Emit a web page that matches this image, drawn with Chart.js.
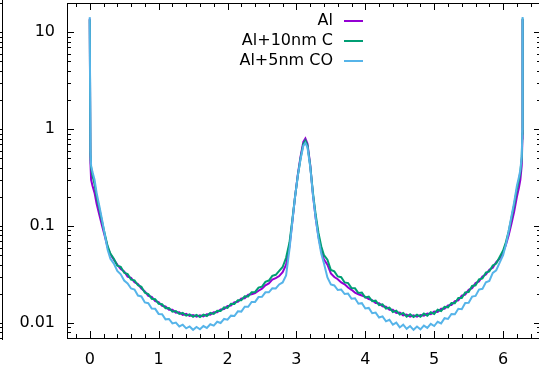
<!DOCTYPE html>
<html>
<head>
<meta charset="utf-8">
<script src="https://cdn.jsdelivr.net/npm/chart.js@4.4.0/dist/chart.umd.min.js"></script>
<style>
html, body { margin: 0; padding: 0; background: #fff; overflow: hidden; }
#chart { display: block; }
</style>
</head>
<body>
<canvas id="chart" width="560" height="371"></canvas>
<script>
// data
var xs = [0, 0.01, 0.02, 0.04, 0.07, 0.1, 0.14, 0.18, 0.22, 0.26, 0.3,
  0.35, 0.40, 0.45, 0.50, 0.55, 0.60, 0.65, 0.70, 0.75, 0.80, 0.85, 0.90, 0.95, 1.00, 1.05, 1.10, 1.15,
  1.20, 1.25, 1.30, 1.35, 1.40, 1.45, 1.50, 1.55, 1.60, 1.65, 1.70, 1.75, 1.80, 1.85, 1.90, 1.95, 2.00,
  2.05, 2.10, 2.15, 2.20, 2.25, 2.30, 2.35, 2.40, 2.45, 2.50, 2.55, 2.60, 2.65, 2.70, 2.75, 2.80, 2.85,
  2.9, 2.94, 2.98, 3.02, 3.06, 3.1, 3.13, 3.16, 3.2, 3.24, 3.28, 3.32, 3.36, 3.4,
  3.45, 3.50, 3.55, 3.60, 3.65, 3.70, 3.75, 3.80, 3.85, 3.90, 3.95, 4.00, 4.05, 4.10, 4.15, 4.20, 4.25,
  4.30, 4.35, 4.40, 4.45, 4.50, 4.55, 4.60, 4.65, 4.70, 4.75, 4.80, 4.85, 4.90, 4.95, 5.00, 5.05, 5.10,
  5.15, 5.20, 5.25, 5.30, 5.35, 5.40, 5.45, 5.50, 5.55, 5.60, 5.65, 5.70, 5.75, 5.80, 5.85, 5.90, 5.95,
  6.0, 6.04, 6.08, 6.12, 6.16, 6.2, 6.23, 6.25, 6.27, 6.28, 6.283];

var alVals = [13.8, 0.45, 0.30, 0.26, 0.22, 0.17, 0.13, 0.10, 0.078, 0.060, 0.051,
  0.045, 0.040, 0.036, 0.034, 0.030, 0.0292, 0.0263, 0.0252, 0.0226, 0.0212, 0.0190, 0.0186, 0.0168, 0.0164, 0.0150, 0.0148, 0.0137,
  0.0137, 0.0128, 0.0129, 0.0121, 0.0124, 0.0118, 0.0121, 0.0116, 0.0120, 0.0117, 0.0123, 0.0122, 0.0129, 0.0129, 0.0138, 0.0139, 0.0150,
  0.0151, 0.0164, 0.0165, 0.0179, 0.0180, 0.0196, 0.0198, 0.0203, 0.0215, 0.0226, 0.0245, 0.0256, 0.0280, 0.0290, 0.0305, 0.0335, 0.040,
  0.062, 0.11, 0.2, 0.34, 0.52, 0.74, 0.80, 0.71, 0.43, 0.21, 0.12, 0.078, 0.056, 0.045,
  0.040, 0.0325, 0.0298, 0.0283, 0.0262, 0.0251, 0.0232, 0.0220, 0.0206, 0.0198, 0.0192, 0.0186, 0.0176, 0.0172, 0.0161, 0.0160, 0.0149,
  0.0147, 0.0137, 0.0137, 0.0127, 0.0128, 0.0120, 0.0122, 0.0116, 0.0120, 0.0116, 0.0121, 0.0119, 0.0125, 0.0123, 0.0131, 0.0130, 0.0140,
  0.0140, 0.0152, 0.0153, 0.0168, 0.0171, 0.0192, 0.0196, 0.0220, 0.0228, 0.0258, 0.0268, 0.0302, 0.0316, 0.0355, 0.0372, 0.0425, 0.046,
  0.054, 0.064, 0.08, 0.105, 0.14, 0.2, 0.25, 0.30, 0.42, 0.8, 13.6];

var alcVals = [13.5, 0.55, 0.40, 0.33, 0.27, 0.20, 0.15, 0.11, 0.082, 0.062, 0.052,
  0.046, 0.039, 0.038, 0.033, 0.032, 0.028, 0.0275, 0.0245, 0.0236, 0.0205, 0.0199, 0.0178, 0.0176, 0.0158, 0.0156, 0.0142, 0.0143,
  0.0131, 0.0133, 0.0124, 0.0127, 0.0119, 0.0123, 0.0116, 0.0121, 0.0115, 0.0122, 0.0118, 0.0127, 0.0124, 0.0134, 0.0133, 0.0145, 0.0143,
  0.0158, 0.0157, 0.0172, 0.0172, 0.0189, 0.0188, 0.0208, 0.0209, 0.0232, 0.0237, 0.0266, 0.0274, 0.0306, 0.0314, 0.0345, 0.0378, 0.047,
  0.068, 0.115, 0.2, 0.33, 0.5, 0.7, 0.76, 0.68, 0.42, 0.22, 0.13, 0.085, 0.062, 0.050,
  0.045, 0.0352, 0.0341, 0.0302, 0.0297, 0.0262, 0.0258, 0.0229, 0.0228, 0.0204, 0.0206, 0.0183, 0.0187, 0.0168, 0.0170, 0.0153, 0.0156,
  0.0141, 0.0144, 0.0130, 0.0134, 0.0122, 0.0127, 0.0116, 0.0123, 0.0115, 0.0122, 0.0116, 0.0125, 0.0119, 0.0129, 0.0124, 0.0137, 0.0133,
  0.0147, 0.0145, 0.0161, 0.0160, 0.0181, 0.0181, 0.0207, 0.0209, 0.0241, 0.0245, 0.0282, 0.0288, 0.0332, 0.0341, 0.0392, 0.0410, 0.048,
  0.056, 0.068, 0.088, 0.12, 0.165, 0.24, 0.30, 0.36, 0.50, 0.9, 13.8];

var alcoVals = [14.3, 0.6, 0.42, 0.36, 0.30, 0.22, 0.16, 0.115, 0.08, 0.057, 0.046,
  0.041, 0.0345, 0.0318, 0.0274, 0.0256, 0.0227, 0.0221, 0.0192, 0.0188, 0.0163, 0.0160, 0.0141, 0.0140, 0.0124, 0.0123, 0.0109, 0.0110,
  0.0099, 0.0101, 0.0092, 0.0096, 0.0088, 0.0092, 0.0085, 0.0091, 0.0086, 0.0093, 0.0089, 0.0097, 0.0094, 0.0103, 0.0100, 0.0110, 0.0108,
  0.0119, 0.0118, 0.0132, 0.0131, 0.0147, 0.0147, 0.0165, 0.0165, 0.0185, 0.0186, 0.0207, 0.0207, 0.0228, 0.0227, 0.0250, 0.0262, 0.031,
  0.058, 0.11, 0.2, 0.33, 0.49, 0.67, 0.72, 0.65, 0.41, 0.21, 0.12, 0.075, 0.052, 0.041,
  0.0295, 0.0250, 0.0244, 0.0219, 0.0221, 0.0199, 0.0201, 0.0178, 0.0180, 0.0158, 0.0160, 0.0141, 0.0143, 0.0126, 0.0128, 0.0114, 0.0117,
  0.0104, 0.0108, 0.0096, 0.0101, 0.0090, 0.0096, 0.0087, 0.0093, 0.0085, 0.0092, 0.0086, 0.0094, 0.0089, 0.0098, 0.0093, 0.0103, 0.0099,
  0.0112, 0.0110, 0.0124, 0.0123, 0.0140, 0.0139, 0.0161, 0.0162, 0.0187, 0.0190, 0.0221, 0.0225, 0.0263, 0.0272, 0.0329, 0.0350, 0.042,
  0.05, 0.064, 0.088, 0.125, 0.175, 0.26, 0.32, 0.38, 0.52, 1.0, 14.3];

var labels = ['Al', 'Al+10nm C', 'Al+5nm CO'];
var colors = ['#9400d3', '#009e73', '#56b4e9'];
var xTicks = [0, 1, 2, 3, 4, 5, 6];
var yTicks = [0.01, 0.1, 1, 10];

var FONT = { family: '"DejaVu Sans", sans-serif', size: 16 };

function pts(vals) {
  return xs.map(function (x, i) { return { x: x, y: vals[i] }; });
}

function noPad(s) {
  s.paddingTop = 0; s.paddingBottom = 0;
  s.paddingLeft = 0; s.paddingRight = 0;
}

// gnuplot style frame, inward ticks and the key
var frame = {
  id: 'frame',
  afterDatasetsDraw: function (chart) {
    var ctx = chart.ctx, a = chart.chartArea, x = chart.scales.x, y = chart.scales.y;
    ctx.save();
    ctx.strokeStyle = '#000';
    ctx.lineWidth = 1;
    ctx.strokeRect(a.left + 0.5, a.top + 0.5, a.right - a.left, a.bottom - a.top);
    ctx.beginPath();
    for (var i = -1; i <= 33; i++) {
      var v = i * 0.2;
      if (v < x.min || v > x.max) continue;
      var px = Math.round(x.getPixelForValue(v)) + 0.5;
      var len = i % 5 === 0 ? 7 : 4;
      ctx.moveTo(px, a.bottom); ctx.lineTo(px, a.bottom - len);
      ctx.moveTo(px, a.top); ctx.lineTo(px, a.top + len);
    }
    for (var d = -3; d <= 1; d++) {
      for (var k = 1; k <= 9; k++) {
        var val = k * Math.pow(10, d);
        if (val < y.min || val > y.max) continue;
        var py = Math.round(y.getPixelForValue(val)) + 0.5;
        var l = k === 1 ? 7 : 4;
        ctx.moveTo(a.left, py); ctx.lineTo(a.left + l, py);
        ctx.moveTo(a.right, py); ctx.lineTo(a.right - l, py);
        // edge of the neighbouring panel
        ctx.moveTo(2.5, py); ctx.lineTo(2.5 - l, py);
      }
    }
    ctx.moveTo(2.5, 0); ctx.lineTo(2.5, a.bottom + 2);
    ctx.stroke();

    // key
    ctx.font = FONT.size + 'px ' + FONT.family;
    ctx.textAlign = 'right';
    ctx.textBaseline = 'middle';
    ctx.fillStyle = '#000';
    ctx.lineWidth = 2;
    chart.data.datasets.forEach(function (ds, n) {
      var ry = 21 + n * 20;
      ctx.fillText(ds.label, 333, ry);
      ctx.strokeStyle = ds.borderColor;
      ctx.beginPath();
      ctx.moveTo(344, ry);
      ctx.lineTo(363, ry);
      ctx.stroke();
    });
    ctx.restore();
  }
};

new Chart(document.getElementById('chart'), {
  type: 'line',
  data: {
    datasets: [
      { label: labels[0], data: pts(alVals), borderColor: colors[0], order: 3 },
      { label: labels[1], data: pts(alcVals), borderColor: colors[1], order: 2 },
      { label: labels[2], data: pts(alcoVals), borderColor: colors[2], order: 1 }
    ]
  },
  options: {
    responsive: false,
    animation: false,
    devicePixelRatio: 1,
    layout: { padding: { left: 0, top: 3, right: 19, bottom: 0 } },
    elements: {
      line: { borderWidth: 2, tension: 0, fill: false },
      point: { radius: 0 }
    },
    plugins: { legend: { display: false }, tooltip: { enabled: false } },
    scales: {
      x: {
        type: 'linear',
        min: -0.33,
        max: 6.55,
        grid: { display: false, drawTicks: false },
        border: { display: false },
        ticks: { font: FONT, color: '#000', padding: 12, maxRotation: 0 },
        afterBuildTicks: function (s) { s.ticks = xTicks.map(function (v) { return { value: v }; }); },
        afterFit: function (s) { s.height = 33; noPad(s); }
      },
      y: {
        type: 'logarithmic',
        min: 0.007,
        max: 20,
        grid: { display: false, drawTicks: false },
        border: { display: false },
        ticks: { font: FONT, color: '#000', padding: 12, callback: function (v) { return String(v); } },
        afterBuildTicks: function (s) { s.ticks = yTicks.map(function (v) { return { value: v }; }); },
        afterFit: function (s) { s.width = 67; noPad(s); }
      }
    }
  },
  plugins: [frame]
});
</script>
</body>
</html>
